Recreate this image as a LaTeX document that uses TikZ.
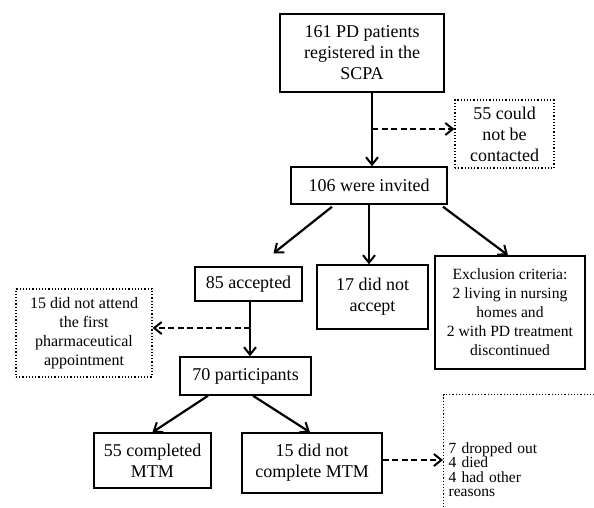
\documentclass[tikz,border=0pt]{standalone}
\usepackage{fontspec}
\setmainfont{Liberation Serif}
\usetikzlibrary{arrows.meta}
\begin{document}
\begin{tikzpicture}[x=1pt,y=-1pt,
  box/.style={draw=black,line width=1.5pt,fill=white,align=center,inner sep=2pt,
    font=\fontsize{18}{21}\selectfont},
  dbox/.style={draw=black,line width=1.2pt,dotted,align=center,inner sep=2pt,
    font=\fontsize{18}{21}\selectfont},
  arr/.style={line width=2.2pt,-{Straight Barb[length=7.5pt,width=12pt,line width=2pt]}},
  darr/.style={arr,dash pattern=on 6pt off 3.5pt}]
\useasboundingbox (0,0) rectangle (594,507);
\clip (0,0) rectangle (594,507);
\fill[white] (0,0) rectangle (594,507);

\node[box,minimum width=164,minimum height=78] (top) at (362,53)
  {161 PD patients\\registered in the\\SCPA};
\node[dbox,minimum width=99,minimum height=68] (contact) at (504.5,134)
  {55 could\\not be\\contacted};
\node[box,minimum width=156,minimum height=37] (invited) at (369,185.5)
  {106 were invited};
\node[box,minimum width=107,minimum height=34] (accepted) at (248.5,284)
  {85 accepted};
\node[box,minimum width=111,minimum height=64] (notaccept) at (372.5,297)
  {17 did not\\accept};
\node[box,minimum width=150,minimum height=113,font=\fontsize{15.6}{19}\selectfont] (excl) at (510,312.5)
  {Exclusion criteria:\\2 living in nursing\\homes and\\2 with PD treatment\\discontinued};
\node[dbox,minimum width=136,minimum height=88,font=\fontsize{16}{19}\selectfont] (attend) at (84,333)
  {15 did not attend\\the first\\pharmaceutical\\appointment};
\node[box,minimum width=131,minimum height=38] (participants) at (245.5,376)
  {70 participants};
\node[box,minimum width=117,minimum height=55] (completed) at (152.5,460.5)
  {55 completed\\MTM};
\node[box,minimum width=140,minimum height=60] (notcomplete) at (312,463)
  {15 did not\\complete MTM};
\node[dbox,anchor=north west,minimum width=170,minimum height=150,align=left,
  text width=160,inner sep=4pt,font=\fontsize{15.5}{14.5}\selectfont] (reasons) at (443,394)
  {7 dropped out\\4 died\\4 had other\\reasons};

\coordinate (b1) at (372,129);
\draw[arr] ([xshift=10]top.south) -- ([xshift=10]top.south |- invited.north);
\draw[darr] (b1) -- (b1 -| contact.west);

\draw[arr] ([xshift=-37,yshift=-2]invited.south) -- ([xshift=25,yshift=13]accepted.north);
\draw[arr] (invited.south) -- (invited.south |- notaccept.north);
\draw[arr] ([xshift=74,yshift=-2]invited.south) -- ([xshift=-2]excl.north);

\coordinate (b2) at (250,328);
\draw[arr] ([xshift=1.5]accepted.south) -- ([xshift=1.5]accepted.south |- participants.north);
\draw[darr] (b2) -- (b2 -| attend.east);

\draw[arr] ([xshift=-37.5]participants.south) -- (completed.north);
\draw[arr] ([xshift=7.5]participants.south) -- ([xshift=-2]notcomplete.north);
\draw[darr] ([yshift=3]notcomplete.east) -- ([yshift=3]notcomplete.east -| reasons.west);
\end{tikzpicture}
\end{document}
